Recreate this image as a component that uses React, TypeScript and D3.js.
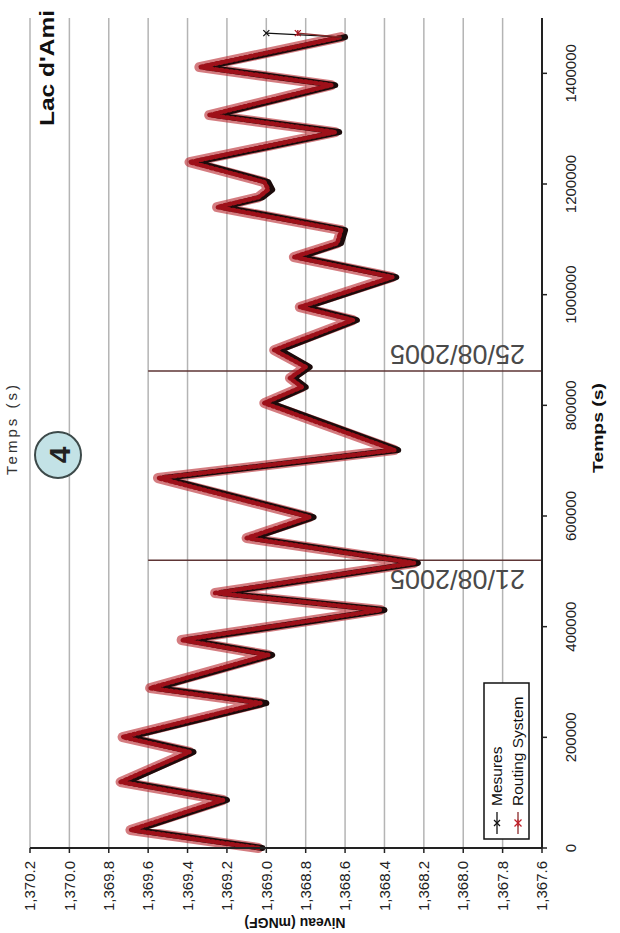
import React from "react";
import * as d3 from "d3";

const TIME = [0, 32500, 86700, 119300, 173500, 200600, 262000, 289000, 348800, 375900, 430000, 460800, 515000, 560200, 598100, 668600, 719200, 804100, 833000, 849300, 869200, 899900, 954100, 977600, 1031800, 1068000, 1093000, 1116700, 1158300, 1176000, 1190000, 1203500, 1239600, 1293800, 1324500, 1378700, 1411200, 1465500, 1472700];
const MESURES = [1369.02, 1369.66, 1369.2, 1369.71, 1369.37, 1369.7, 1369.0, 1369.56, 1368.97, 1369.4, 1368.4, 1369.23, 1368.23, 1369.07, 1368.76, 1369.52, 1368.33, 1368.98, 1368.8, 1368.86, 1368.78, 1368.93, 1368.54, 1368.8, 1368.34, 1368.83, 1368.62, 1368.6, 1369.22, 1369.02, 1368.97, 1368.99, 1369.36, 1368.63, 1369.26, 1368.65, 1369.31, 1368.6, 1369.0];
const ROUTING = [1369.04, 1369.69, 1369.22, 1369.74, 1369.39, 1369.73, 1369.03, 1369.59, 1368.99, 1369.43, 1368.42, 1369.26, 1368.25, 1369.1, 1368.78, 1369.55, 1368.35, 1369.01, 1368.82, 1368.88, 1368.8, 1368.96, 1368.56, 1368.83, 1368.36, 1368.86, 1368.64, 1368.62, 1369.25, 1369.04, 1368.99, 1369.01, 1369.39, 1368.65, 1369.29, 1368.67, 1369.34, 1368.62, 1368.84];
const LEVEL_TICKS = [1370.2, 1370.0, 1369.8, 1369.6, 1369.4, 1369.2, 1369.0, 1368.8, 1368.6, 1368.4, 1368.2, 1368.0, 1367.8, 1367.6];
const TIME_TICKS = [0, 200000, 400000, 600000, 800000, 1000000, 1200000, 1400000];
const EVENT_TIMES = [520000, 862000];
const EVENT_LABELS = ["21/08/2005", "25/08/2005"];
const SERIES_NAMES = ["Mesures", "Routing System"];

const FONT = "'Liberation Sans', Arial, sans-serif";

export default function App() {
  const top = 18, bottom = 848, left = 30, right = 542;
  const yT = d3.scaleLinear().domain([0, 1500000]).range([bottom, top]);
  const xV = d3.scaleLinear().domain([1370.2, 1367.6]).range([left, right]);
  const fmt = d3.format(",.1f");
  const n = TIME.length;
  const path = (vals: number[], from: number, to: number) =>
    d3
      .line<number>()
      .x((i) => xV(vals[i]))
      .y((i) => yT(TIME[i]))(d3.range(from, to)) || "";
  const mainM = path(MESURES, 0, n - 1);
  const mainR = path(ROUTING, 0, n - 1);
  const endM = path(MESURES, n - 2, n);
  const endR = path(ROUTING, n - 2, n);

  const cross = (cx: number, cy: number, s: number, color: string, w: number) => (
    <g stroke={color} strokeWidth={w}>
      <line x1={cx - s} y1={cy - s} x2={cx + s} y2={cy + s} />
      <line x1={cx - s} y1={cy + s} x2={cx + s} y2={cy - s} />
    </g>
  );
  const star = (cx: number, cy: number, s: number, color: string, w: number) => (
    <g stroke={color} strokeWidth={w}>
      <line x1={cx - s} y1={cy - s} x2={cx + s} y2={cy + s} />
      <line x1={cx - s} y1={cy + s} x2={cx + s} y2={cy - s} />
      <line x1={cx} y1={cy - s} x2={cx} y2={cy + s} />
    </g>
  );

  const yEnd = yT(TIME[n - 1]);

  return (
    <svg
      width={620}
      height={933}
      style={{ position: "absolute", left: 0, top: 0, background: "#fff" }}
      fontFamily={FONT}
    >
      <rect x={0} y={0} width={620} height={933} fill="#fff" />
      {/* gridlines */}
      {LEVEL_TICKS.slice(0, -1).map((v) => (
        <line key={"g" + v} x1={xV(v)} x2={xV(v)} y1={top} y2={bottom} stroke="#b4b4b4" strokeWidth={1.5} />
      ))}
      {/* event lines */}
      {EVENT_TIMES.map((t, i) => (
        <g key={"e" + i}>
          <line x1={xV(1369.6)} x2={right} y1={yT(t)} y2={yT(t)} stroke="#5e3535" strokeWidth={1.6} />
          <text
            transform={`translate(${(388 + 527) / 2},${yT(t) + (i === 0 ? 19 : -17)}) rotate(180)`}
            textAnchor="middle"
            dy="0.35em"
            fontSize={27}
            fill="#4a4a4a"
          >
            {EVENT_LABELS[i]}
          </text>
        </g>
      ))}
      {/* data */}
      <g strokeLinejoin="round" strokeLinecap="round" fill="none">
        <path d={mainR} stroke="#b8242c" strokeWidth={10} opacity={0.6} />
        <path d={mainM} stroke="#1c0b0b" strokeWidth={6} />
        <path d={mainR} stroke="#9e1019" strokeWidth={4.5} strokeDasharray="2 3" />
        <path d={endM} stroke="#111" strokeWidth={1.3} />
        <path d={endR} stroke="#8a2a2a" strokeWidth={1.3} />
      </g>
      {cross(xV(MESURES[n - 1]), yEnd, 3, "#111", 1.3)}
      {star(xV(ROUTING[n - 1]), yEnd, 3, "#a8141e", 1.3)}
      {/* level axis */}
      <line x1={left} x2={right} y1={bottom} y2={bottom} stroke="#222" strokeWidth={2} />
      {LEVEL_TICKS.map((v) => (
        <g key={"lt" + v}>
          <line x1={xV(v)} x2={xV(v)} y1={bottom} y2={bottom + 5} stroke="#222" strokeWidth={1.5} />
          <text
            transform={`translate(${xV(v)},886) rotate(-90)`}
            textAnchor="middle"
            dy="0.35em"
            fontSize={15}
            fill="#222"
          >
            {fmt(v)}
          </text>
        </g>
      ))}
      {/* time axis */}
      <line x1={right} x2={right} y1={top} y2={bottom} stroke="#222" strokeWidth={2} />
      {TIME_TICKS.map((t) => (
        <g key={"tt" + t}>
          <line x1={right} x2={right + 5} y1={yT(t)} y2={yT(t)} stroke="#222" strokeWidth={1.5} />
          <text
            transform={`translate(571,${yT(t)}) rotate(-90)`}
            textAnchor="middle"
            dy="0.35em"
            fontSize={15}
            fill="#222"
          >
            {t}
          </text>
        </g>
      ))}
      <text
        transform={`translate(598,428) rotate(-90)`}
        textAnchor="middle"
        dy="0.35em"
        fontSize={15}
        fontWeight="bold"
        fill="#111"
        textLength={90}
        lengthAdjust="spacingAndGlyphs"
      >
        Temps (s)
      </text>
      {/* level axis title (upside down, at the bottom edge as in the reference) */}
      <text
        transform={`translate(295,918) rotate(180)`}
        textAnchor="middle"
        fontSize={14}
        fontWeight="bold"
        fill="#111"
      >
        Niveau (mNGF)
      </text>
      {/* top labels */}
      <text
        transform={`translate(12,430) rotate(-90)`}
        textAnchor="middle"
        dy="0.35em"
        fontSize={15}
        fill="#333"
        textLength={90}
        lengthAdjust="spacing"
      >
        Temps (s)
      </text>
      <circle cx={58} cy={455} r={23} fill="#c3e2e6" stroke="#3d4a4a" strokeWidth={2} />
      <text
        transform={`translate(59,455) rotate(-90)`}
        textAnchor="middle"
        dy="0.36em"
        fontSize={30}
        fontWeight="bold"
        fill="#222"
      >
        4
      </text>
      <text
        transform={`translate(47,68) rotate(-90)`}
        textAnchor="middle"
        dy="0.36em"
        fontSize={20}
        fontWeight="bold"
        fill="#111"
        textLength={116}
        lengthAdjust="spacingAndGlyphs"
      >
        Lac d'Ami
      </text>
      {/* legend */}
      <rect x={484} y={683} width={45} height={156} fill="#fff" stroke="#111" strokeWidth={1.5} />
      <line x1={497} x2={497} y1={812} y2={834} stroke="#111" strokeWidth={1.3} />
      {cross(497, 823, 3, "#111", 1.3)}
      <text transform={`translate(497,806) rotate(-90)`} dy="0.35em" fontSize={15.5} fill="#111">
        {SERIES_NAMES[0]}
      </text>
      <line x1={518} x2={518} y1={812} y2={834} stroke="#8a2a2a" strokeWidth={1.3} />
      {star(518, 823, 3.5, "#c0202a", 1.3)}
      <text transform={`translate(518,806) rotate(-90)`} dy="0.35em" fontSize={15.5} fill="#111">
        {SERIES_NAMES[1]}
      </text>
    </svg>
  );
}
